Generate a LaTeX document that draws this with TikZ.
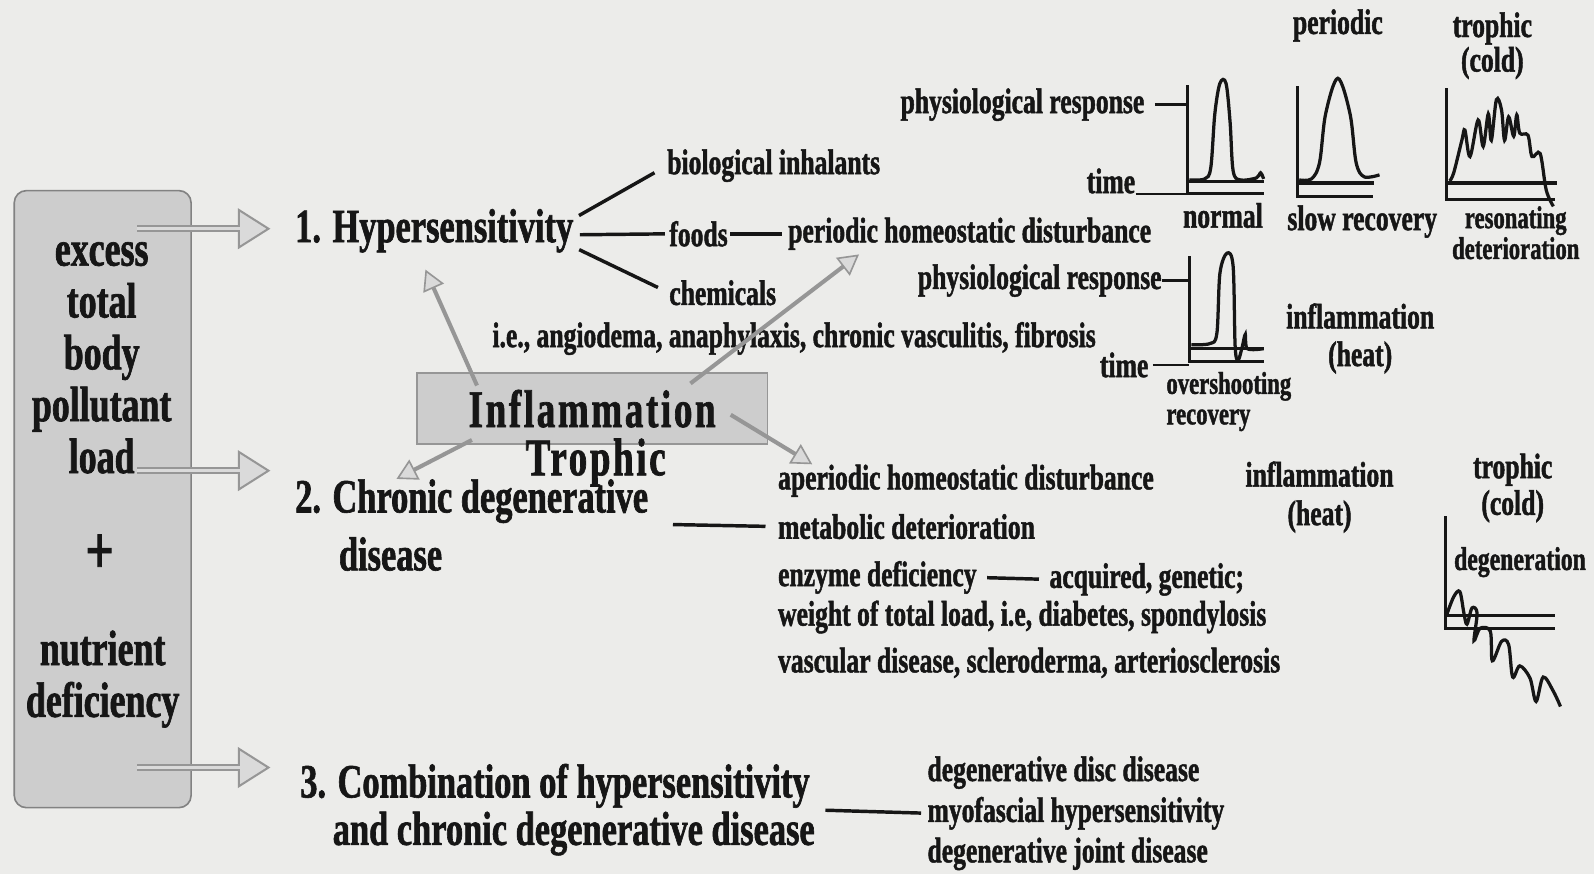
\documentclass[tikz,border=0pt]{standalone}
\usepackage{fontspec}
\setmainfont{Liberation Serif}[FakeStretch=0.72,BoldFeatures={FakeBold=1.3}]
\newfontfamily\spacedfont{Liberation Serif}[FakeStretch=0.7,LetterSpace=5,BoldFeatures={FakeBold=1.3}]
\usepackage{tikz}
\usetikzlibrary{arrows.meta,positioning,calc}
\definecolor{paper}{RGB}{236,236,234}
\definecolor{boxfill}{RGB}{205,205,205}
\definecolor{boxline}{RGB}{130,130,130}
\definecolor{arrgray}{RGB}{150,150,150}
\definecolor{arrfill}{RGB}{218,218,218}
\definecolor{ink}{RGB}{22,22,22}
\newcommand\lblfs{\bfseries\fontsize{17.5}{21}\selectfont}
\newcommand\headfs{\bfseries\fontsize{23.5}{27}\selectfont}
\newcommand\loadfs{\bfseries\fontsize{24.5}{25.5}\selectfont}

\begin{document}
\begin{tikzpicture}[
  x=0.5pt, y=-0.5pt, color=ink,
  lbl/.style={font=\lblfs,inner sep=0pt,anchor=west},
  head/.style={font=\headfs,inner sep=0pt,anchor=west},
  caption/.style={font=\lblfs,inner sep=0pt,align=center},
  loadbox/.style={draw=boxline,fill=boxfill,rounded corners=6pt,line width=0.8pt,minimum width=87pt,minimum height=303.5pt},
  infbox/.style={draw=arrgray,fill=boxfill,line width=0.8pt,minimum width=172.5pt,minimum height=35pt,inner sep=0pt,font=\spacedfont\bfseries\fontsize{26}{28}\selectfont},
  blockarr/.style={draw=arrgray,line width=3.6pt,-{Triangle[length=16pt,width=20pt,fill=arrfill,color=arrgray,line width=1pt]},
    postaction={draw=arrfill,line width=1.4pt,shorten >=15pt,-}},
  grayarr/.style={draw=arrgray,line width=2pt,-{Triangle[length=10pt,width=11pt,fill=arrfill,color=arrgray,line width=0.8pt]}},
  branch/.style={line width=1.7pt},
  tick/.style={line width=1.2pt},
  axisln/.style={line width=1.5pt},
  curve/.style={line width=1.6pt,smooth,tension=0.55},
]
\useasboundingbox (0,0) rectangle (1568,860);
\fill[paper] (0,0) rectangle (1568,860);

% left box
\node[loadbox] (load) at (101,491) {};
\node[font=\loadfs,align=center,inner sep=0pt] (pollut) at (100,352) {excess\\total\\body\\pollutant\\load};
\node[font=\bfseries\fontsize{34}{36}\selectfont,inner sep=0pt] (plus) at (98,545) {+};
\node[font=\loadfs,align=center,inner sep=0pt] (nutr) at (101,668) {nutrient\\deficiency};

% headings
\node[head] (hyp) at (290,227) {1. Hypersensitivity};
\node[head] (chronic) at (290,493) {2. Chronic degenerative};
\node[head] (chronicb) at (333,545) {disease};
\node[head] (comb) at (295,773) {3. Combination of hypersensitivity};
\node[head] (combb) at (327,820) {and chronic degenerative disease};

\coordinate (out1) at (135,225);
\coordinate (out2) at (135,463);
\coordinate (out3) at (135,755);
\coordinate (in1) at (266,225);
\coordinate (in2) at (266,463);
\coordinate (in3) at (266,755);
\draw[blockarr] (out1) -- (in1);
\draw[blockarr] (out2) -- (in2);
\draw[blockarr] (out3) -- (in3);

% hypersensitivity branch
\node[lbl] (bio) at (656,163) {biological inhalants};
\node[lbl] (foods) at (658,230) {foods};
\node[lbl] (periodic) at (775,230) {periodic homeostatic disturbance};
\node[lbl] (chem) at (658,288) {chemicals};
\node[lbl] (ie) at (484,333) {i.e., angiodema, anaphylaxis, chronic vasculitis, fibrosis};

\draw[branch,shorten <=3pt,shorten >=7pt] ([yshift=6pt]hyp.east) -- (bio.west);
\draw[branch,shorten <=3pt,shorten >=2pt] ([yshift=-2pt]hyp.east) -- (foods.west);
\draw[branch,shorten <=3pt,shorten >=6pt] ([yshift=-8pt]hyp.east) -- (chem.west);
\draw[branch,shorten <=1pt,shorten >=3pt] (foods.east) -- (periodic.west);

% chronic degenerative branch
\node[lbl] (aper) at (765,473) {aperiodic homeostatic disturbance};
\node[lbl] (metab) at (765,518) {metabolic deterioration};
\node[lbl] (enzyme) at (765,568) {enzyme deficiency};
\node[lbl] (acq) at (1032,570) {acquired, genetic;};
\node[lbl] (weight) at (765,607) {weight of total load, i.e, diabetes, spondylosis};
\node[lbl] (vasc) at (765,652) {vascular disease, scleroderma, arteriosclerosis};
\coordinate (cdlink) at (662,516);
\draw[branch,shorten >=6pt] (cdlink) -- (metab.west);
\draw[branch,shorten <=5pt,shorten >=5pt] (enzyme.east) -- (acq.west);

% inflammation box
\node[infbox] (inflam) at (582.5,402) {Inflammation};
\node[font=\spacedfont\bfseries\fontsize{26}{28}\selectfont,inner sep=0pt] (troph) at (586,455) {Trophic};

\draw[grayarr,shorten >=9pt] ([shift={(60,13)}]inflam.north west) -- ([xshift=-8pt]hyp.south);
\draw[grayarr] ([shift={(270,11)}]inflam.north west) -- ([xshift=35pt,yshift=-2pt]periodic.south west);
\draw[grayarr] ([shift={(55,-5)}]inflam.south west) -- ([xshift=50pt]chronic.north west);
\draw[grayarr] ([shift={(-37,6)}]inflam.east) -- ([xshift=17pt]aper.north west);

% combination branch
\node[lbl] (disc) at (912,760) {degenerative disc disease};
\node[lbl] (myo) at (912,800) {myofascial hypersensitivity};
\node[lbl] (joint) at (912,840) {degenerative joint disease};
\coordinate (comblink) at (812,797);
\draw[branch,shorten >=3pt] (comblink) -- (myo.west);

% response curves, top row
\node[caption] (pertitle) at (1316,25) {periodic};
\node[caption,font=\bfseries\fontsize{17.5}{17}\selectfont] (troptitle) at (1468,45) {trophic\\(cold)};
\node[lbl,anchor=east] (resp1) at (1126,103) {physiological response};
\node[lbl,anchor=east] (time1) at (1117,178) {time};
\node[caption] (normal) at (1203,212) {normal};
\node[caption] (slowrec) at (1340,218) {slow recovery};
\node[caption,font=\bfseries\fontsize{15.5}{14}\selectfont] (reson) at (1491,229) {resonating\\deterioration};

\coordinate (g1) at (1168,190);
\draw[axisln] (1168,84) -- (g1) -- (1243,190);
\draw[axisln] (1168,179) -- (1243,179);
\draw[tick,shorten <=5pt] (resp1.east) -- (resp1.east -| g1);
\draw[tick] (time1.south east) -- (time1.south east -| g1);
\draw[curve] plot coordinates {(1170,177) (1185,176) (1191,165) (1195,112) (1200,82) (1206,82) (1210,120) (1213,168) (1220,177) (1236,175) (1240,170) (1243,176)};

\coordinate (g2) at (1276,193);
\draw[axisln] (1276,85) -- (g2) -- (1351,193);
\draw[axisln] (1276,180) -- (1352,180);
\draw[curve] plot coordinates {(1278,177) (1290,176) (1298,160) (1304,112) (1316,77) (1328,112) (1334,160) (1342,174) (1357,172)};

\coordinate (g3) at (1423,196);
\draw[axisln] (1423,87) -- (g3) -- (1530,196);
\draw[axisln] (1423,180) -- (1532,180);
\draw[curve] plot coordinates {(1426,178) (1430,170) (1438,138) (1441,128) (1446,154) (1454,118) (1459,144) (1464,112) (1467,138) (1472,98) (1477,108) (1480,138) (1484,115) (1489,134) (1492,113) (1495,131) (1503,133) (1507,154) (1515,151) (1521,187) (1528,203)};

% response curve, second row
\node[lbl,anchor=east] (resp2) at (1143,276) {physiological response};
\node[lbl,anchor=east] (time2) at (1130,359) {time};
\node[caption,align=left,font=\bfseries\fontsize{15.5}{15}\selectfont,anchor=west] (oversh) at (1147,395) {overshooting\\recovery};
\node[caption,font=\bfseries\fontsize{17.5}{18.5}\selectfont] (inflh1) at (1338,333) {inflammation\\(heat)};

\coordinate (g4) at (1170,356);
\draw[axisln] (1170,252) -- (g4) -- (1243,356);
\draw[axisln] (1170,343) -- (1243,343);
\draw[tick] (resp2.east) -- (resp2.east -| g4);
\draw[tick,shorten <=2pt] (time2.east) -- (time2.east -| g4);
\draw[curve] plot coordinates {(1172,339) (1190,338) (1197,328) (1200,269) (1207,249) (1213,262) (1215,341) (1218,354) (1222,341) (1225,329) (1227,343) (1243,343)};

% bottom right curve
\node[caption,font=\bfseries\fontsize{17.5}{19}\selectfont] (inflh2) at (1298,489) {inflammation\\(heat)};
\node[caption,font=\bfseries\fontsize{17.5}{18}\selectfont] (tropb) at (1488,480) {trophic\\(cold)};
\node[lbl,font=\bfseries\fontsize{16.2}{18}\selectfont] (degen) at (1430,553) {degeneration};

\coordinate (g5) at (1422,618);
\draw[axisln] (1422,508) -- (g5) -- (1530,618);
\draw[axisln] (1422,605) -- (1530,605);
\draw[curve] plot coordinates {(1423,605) (1430,587) (1436,582) (1440,603) (1443,614) (1448,598) (1453,603) (1450,630) (1456,618) (1466,621) (1468,650) (1477,631) (1484,634) (1488,666) (1495,655) (1505,667) (1511,690) (1518,666) (1528,680) (1535,695)};

\end{tikzpicture}
\end{document}
